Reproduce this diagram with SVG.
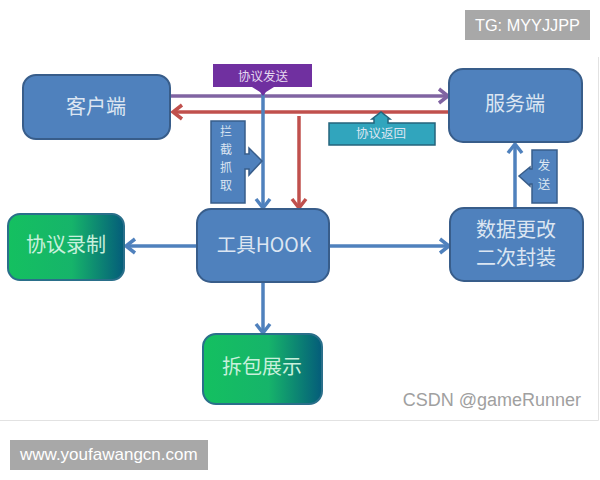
<svg xmlns="http://www.w3.org/2000/svg" width="600" height="480" viewBox="0 0 600 480">
<style>
.blue{fill:#4f81bd;stroke:#385d8a;stroke-width:2}
.green{fill:url(#g);stroke:#2a6f8a;stroke-width:2}
.t{font-family:"Noto Sans CJK SC","Liberation Sans",sans-serif;fill:#dce6f2;text-anchor:middle}
.lg{font-size:20px}
.sm{font-size:12.500px}
.v{font-size:12px}
.gt{fill:#c8f0dc}
.wm{font-family:"Liberation Sans",sans-serif;fill:#fff}
.c{fill:none;stroke-width:3.500}
</style>
<defs>
<linearGradient id="g" x1="0" y1="0" x2="1" y2="0"><stop offset="0" stop-color="#14c060"/><stop offset=".55" stop-color="#16b46a"/><stop offset="1" stop-color="#045c7a"/></linearGradient>
<marker id="ab" markerUnits="userSpaceOnUse" markerWidth="18" markerHeight="20" refX="15" refY="10" orient="auto"><path d="M6 3L15 10L6 17" fill="none" stroke="#4f81bd" stroke-width="3.500"/></marker>
<marker id="ap" markerUnits="userSpaceOnUse" markerWidth="18" markerHeight="20" refX="15" refY="10" orient="auto"><path d="M6 3L15 10L6 17" fill="none" stroke="#8064a2" stroke-width="3.500"/></marker>
<marker id="ar" markerUnits="userSpaceOnUse" markerWidth="18" markerHeight="20" refX="15" refY="10" orient="auto"><path d="M6 3L15 10L6 17" fill="none" stroke="#c0504d" stroke-width="3.500"/></marker>
</defs>
<rect width="600" height="480" fill="#fff"/>
<path d="M0 420.500H598.500V57" fill="none" stroke="#e2e2e2"/>
<g id="connectors">
<path class="c" d="M171 96H448" stroke="#8064a2" marker-end="url(#ap)"/>
<path class="c" d="M449 112H173" stroke="#c0504d" marker-end="url(#ar)"/>
<path class="c" d="M299 116V208" stroke="#c0504d" marker-end="url(#ar)"/>
<path class="c" d="M263 92V208" stroke="#4f81bd" marker-end="url(#ab)"/>
<path class="c" d="M197 246H126" stroke="#4f81bd" marker-end="url(#ab)"/>
<path class="c" d="M329 246H449" stroke="#4f81bd" marker-end="url(#ab)"/>
<path class="c" d="M263 282V333" stroke="#4f81bd" marker-end="url(#ab)"/>
<path class="c" d="M515 208V144" stroke="#4f81bd" marker-end="url(#ab)"/>
</g>
<g id="client"><rect class="blue" x="23" y="75" width="147" height="64" rx="13"/><text class="t lg" x="96" y="114">客户端</text></g>
<g id="server"><rect class="blue" x="449" y="69" width="133" height="73" rx="14"/><text class="t lg" x="515" y="111">服务端</text></g>
<g id="hook"><rect class="blue" x="197" y="209" width="132" height="73" rx="14"/><text class="t lg" x="264" y="252" style="font-size:19.500px">工具HOOK</text></g>
<g id="modify"><rect class="blue" x="450" y="208" width="133" height="73" rx="14"/><text class="t lg" x="516" y="237">数据更改</text><text class="t lg" x="516" y="265">二次封装</text></g>
<g id="record"><rect class="green" x="8" y="214" width="116" height="66" rx="12"/><text class="t lg gt" x="66" y="252">协议录制</text></g>
<g id="unpack"><rect class="green" x="203" y="334" width="119" height="70" rx="13"/><text class="t lg gt" x="262" y="374">拆包展示</text></g>
<g id="send-callout"><path d="M213 64H312V87H274L266 92L263 96L260 92L252 87H213Z" fill="#7030a0"/><text class="t sm" x="263" y="81" style="fill:#e4d8f0">协议发送</text></g>
<g id="intercept-callout"><path d="M211 121H245V154H249V148L262 161L249 175V169H245V203H211Z" fill="#4f81bd" stroke="#385d8a" stroke-width="1.500"/><text class="t v" x="226" y="136">拦</text><text class="t v" x="226" y="154">截</text><text class="t v" x="226" y="172">抓</text><text class="t v" x="226" y="190">取</text></g>
<g id="return-callout"><path d="M329 123H374V119H372L381 112L390 119H388V123H435V145H329Z" fill="#31a5bd" stroke="#24647c" stroke-width="1.500"/><text class="t sm" x="381" y="138">协议返回</text></g>
<g id="send2-callout"><path d="M532 150H557V203H532V184H530L530 186L519 176L530 167V169H532Z" fill="#4f81bd" stroke="#385d8a" stroke-width="1.500"/><text class="t sm" x="544" y="170">发</text><text class="t sm" x="544" y="189">送</text></g>
<text x="581" y="406" text-anchor="end" font-family="Liberation Sans,sans-serif" font-size="18" fill="#a0a0a0">CSDN @gameRunner</text>
<rect x="465" y="10" width="125" height="30" fill="#a8a8a8"/>
<text class="wm" x="475" y="31" font-size="16.300">TG: MYYJJPP</text>
<rect x="10" y="440" width="198" height="30" fill="#a8a8a8"/>
<text class="wm" x="20" y="460" font-size="17">www.youfawangcn.com</text>
</svg>
